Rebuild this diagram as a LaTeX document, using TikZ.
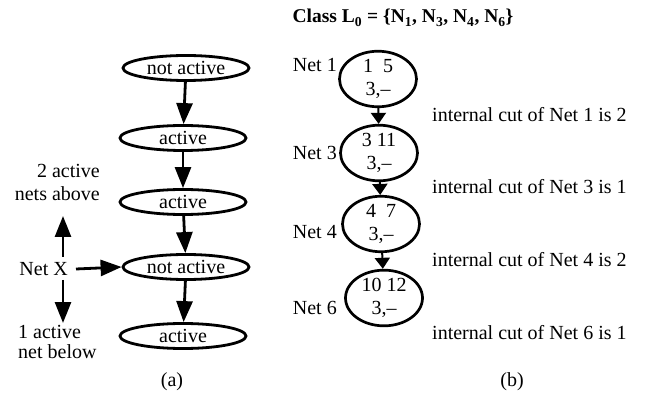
\documentclass[tikz,border=0pt]{standalone}
\usepackage{fontspec}
\setmainfont{Liberation Serif}
\usetikzlibrary{shapes.geometric,arrows.meta}
\begin{document}
\begin{tikzpicture}[x=1pt,y=-1pt,
  every node/.style={font=\fontsize{20}{22}\selectfont},
  lbox/.style={ellipse,draw,line width=2.8pt,inner sep=0pt,minimum width=126pt,minimum height=25pt},
  rbox/.style={ellipse,draw,line width=2.7pt,inner sep=0pt,minimum width=77pt,minimum height=51pt,align=center,font=\fontsize{20}{23}\selectfont},
  bigarrow/.style={line width=2.8pt,-{Triangle[length=21pt,width=16pt]}},
  smallarrow/.style={line width=2pt,-{Triangle[length=11pt,width=15pt]}},
  plain/.style={inner sep=0pt,anchor=base}
]
\useasboundingbox (0,0) rectangle (645,395);
% (a)
\node[lbox] (e1) at (186,68) {not active};
\node[lbox] (e2) at (183,138) {active};
\node[lbox] (e3) at (183,202) {active};
\node[lbox] (e4) at (186,267) {not active};
\node[lbox] (e5) at (183,336) {active};
\draw[bigarrow] (e1) -- (e2);
\draw[bigarrow] (e2) -- (e3);
\draw[bigarrow] (e3) -- (e4);
\draw[bigarrow] (e4) -- (e5);
\node[inner sep=0pt,align=right,anchor=north east,font=\fontsize{20}{23}\selectfont] (above) at (100,164) {2 active\\nets above};
\node[inner sep=0pt,anchor=east] (netx) at (68,269) {Net X};
\node[inner sep=0pt,align=left,anchor=north west,font=\fontsize{20}{20}\selectfont] (below) at (18,325) {1 active\\net below};
\coordinate (upend) at (63,216);
\coordinate (upstart) at (63,257);
\coordinate (dnstart) at (63,280);
\coordinate (dnend) at (63,323);
\draw[bigarrow] (upstart) -- (upend);
\draw[bigarrow] (dnstart) -- (dnend);
\draw[bigarrow] (netx.east) ++(8,0) coordinate (xs) (xs) -- (e4.west);
\node[plain] (capa) at (172,386) {(a)};
% (b)
\node[plain,font=\fontsize{19.5}{22}\selectfont\bfseries] (title) at (403,23) {Class L$_{\mathbf 0}$ = \{N$_{\mathbf 1}$, N$_{\mathbf 3}$, N$_{\mathbf 4}$, N$_{\mathbf 6}$\}};
\node[rbox] (n1) at (378,79) {1\ \ 5\\3,–};
\node[rbox] (n3) at (379,153) {3 11\\3,–};
\node[rbox] (n4) at (381,224) {4\ \ 7\\3,–};
\node[rbox] (n6) at (384,298) {10 12\\3,–};
\draw[smallarrow] (n1) -- (n3);
\draw[smallarrow] (n3) -- (n4);
\draw[smallarrow] (n4) -- (n6);
\node[plain,anchor=base east] (l1) at (337,72) {Net 1};
\node[plain,anchor=base east] (l3) at (337,160) {Net 3};
\node[plain,anchor=base east] (l4) at (337,239) {Net 4};
\node[plain,anchor=base east] (l6) at (337,314) {Net 6};
\node[plain,anchor=base west] (c1) at (432,122) {internal cut of Net 1 is 2};
\node[plain,anchor=base west] (c3) at (432,194) {internal cut of Net 3 is 1};
\node[plain,anchor=base west] (c4) at (432,267) {internal cut of Net 4 is 2};
\node[plain,anchor=base west] (c6) at (432,339) {internal cut of Net 6 is 1};
\node[plain] (capb) at (512,386) {(b)};
\end{tikzpicture}
\end{document}
